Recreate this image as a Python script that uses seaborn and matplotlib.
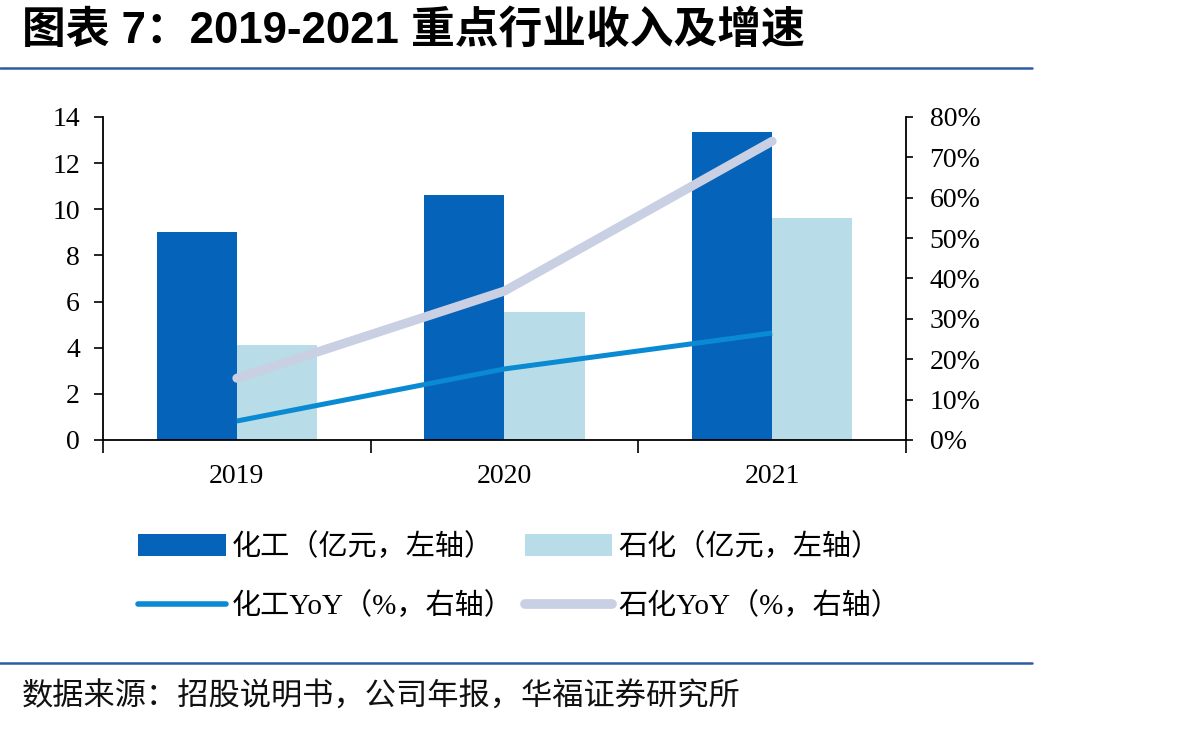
import numpy as np
import pandas as pd
import matplotlib
matplotlib.use("Agg")
import matplotlib.pyplot as plt
import seaborn as sns
from matplotlib.patches import Patch
from matplotlib.lines import Line2D
from matplotlib.ticker import FuncFormatter

# ---- data ----
years = ["2019", "2020", "2021"]
chem_rev = [9.0, 10.6, 13.35]        # 化工（亿元）
petro_rev = [4.12, 5.55, 9.62]       # 石化（亿元）
chem_yoy = [4.7, 17.6, 26.5]         # 化工YoY %
petro_yoy = [15.3, 36.9, 74.0]       # 石化YoY %
series_names = ["化工（亿元，左轴）", "石化（亿元，左轴）"]
line_names = ["化工YoY（%，右轴）", "石化YoY（%，右轴）"]
title = "图表 7：2019-2021 重点行业收入及增速"
source = "数据来源：招股说明书，公司年报，华福证券研究所"

c_dark = "#0563B9"
c_light = "#B8DDE8"
c_line1 = "#0A8AD2"
c_line2 = "#C9D0E3"

sns.set_theme(style="white")
serif_cjk = ["Liberation Serif", "Noto Sans CJK SC"]
plt.rcParams["font.family"] = serif_cjk
plt.rcParams["text.color"] = "black"
plt.rcParams["xtick.color"] = "black"
plt.rcParams["ytick.color"] = "black"
plt.rcParams["axes.labelcolor"] = "black"

df = pd.DataFrame({
    "year": years * 2,
    "value": chem_rev + petro_rev,
    "series": [series_names[0]] * 3 + [series_names[1]] * 3,
})

fig = plt.figure(figsize=(11.89, 7.29), dpi=100)
ax = fig.add_axes([103/1189, 1-440/729, (906-103)/1189, (440-117)/729])

sns.barplot(data=df, x="year", y="value", hue="series", ax=ax,
            palette=[c_dark, c_light], width=0.6, legend=False,
            saturation=1, edgecolor="none")
ax.set_xlim(-0.5, 2.5)
ax.set_ylim(0, 14)
ax.set_yticks(np.arange(0, 15, 2))
ax.set_xlabel("")
ax.set_ylabel("")

ax2 = ax.twinx()
xpos = np.arange(len(years))
sns.lineplot(x=xpos, y=chem_yoy, ax=ax2, color=c_line1, linewidth=3.6,
             solid_capstyle="butt")
sns.lineplot(x=xpos, y=petro_yoy, ax=ax2, color=c_line2, linewidth=6.5,
             solid_capstyle="round")
ax2.set_ylim(0, 80)
ax2.set_yticks(np.arange(0, 81, 10))
ax2.yaxis.set_major_formatter(FuncFormatter(lambda v, p: f"{int(v)}%"))
ax2.set_xlim(-0.5, 2.5)

# x ticks: boundaries as major ticks, labels at centres
ax.set_xticks([-0.5, 0.5, 1.5, 2.5])
ax.set_xticklabels([])
ax.set_xticks(xpos, minor=True)
ax.set_xticklabels(years, minor=True)
ax.tick_params(axis="x", which="major", direction="out", length=9, width=1.2,
               color="black", bottom=True)
ax.tick_params(axis="x", which="minor", length=0, pad=17, labelsize=20,
               bottom=True, labelcolor="black")
ax.tick_params(axis="y", direction="out", length=6.5, width=1.2, color="black",
               left=True, labelsize=20, pad=10, labelcolor="black")
ax2.tick_params(axis="y", direction="out", length=5, width=1.2, color="black",
                right=True, labelsize=20, pad=12, labelcolor="black")

for a in (ax, ax2):
    a.spines["top"].set_visible(False)
    for s in ("left", "right", "bottom"):
        a.spines[s].set_color("black")
        a.spines[s].set_linewidth(1.3)
ax.spines["right"].set_visible(False)
ax2.spines["left"].set_visible(False)
ax2.spines["bottom"].set_visible(False)
ax.grid(False)
ax2.grid(False)
ax.set_zorder(ax2.get_zorder() - 1)
ax2.patch.set_visible(False)
ax.patch.set_visible(False)

# legend
handles = [
    Patch(facecolor=c_dark, edgecolor="none"),
    Patch(facecolor=c_light, edgecolor="none"),
    Line2D([0], [0], color=c_line1, linewidth=4),
    Line2D([0], [0], color=c_line2, linewidth=7, solid_capstyle="round"),
]
labels = [series_names[0], series_names[1], line_names[0], line_names[1]]
order = [0, 2, 1, 3]
leg = fig.legend([handles[i] for i in order], [labels[i] for i in order],
                 loc="upper left", bbox_to_anchor=(138/1189, 1-533/729),
                 ncol=2, frameon=False, fontsize=21, handlelength=3.0,
                 handleheight=0.8, handletextpad=0.2, columnspacing=0.4,
                 labelspacing=1.08, borderpad=0, borderaxespad=0,
                 labelcolor="black")

# title & decoration
fig.text(22/1189, 1-31/729, title, fontsize=31.5, fontweight="bold",
         family=["Liberation Sans", "Noto Sans CJK SC"], va="center", ha="left",
         color="black")
fig.add_artist(Line2D([0, 1032/1189], [1-68/729, 1-68/729], color="#2E5BA6",
                      linewidth=1.8, transform=fig.transFigure))
fig.add_artist(Line2D([0, 1032/1189], [1-663/729, 1-663/729], color="#2E5BA6",
                      linewidth=1.8, transform=fig.transFigure))
fig.text(22/1189, 1-697/729, source, fontsize=22.5,
         family=["Noto Sans CJK SC"], va="center", ha="left", color="#111111")

fig.savefig("out.png", dpi=100)
